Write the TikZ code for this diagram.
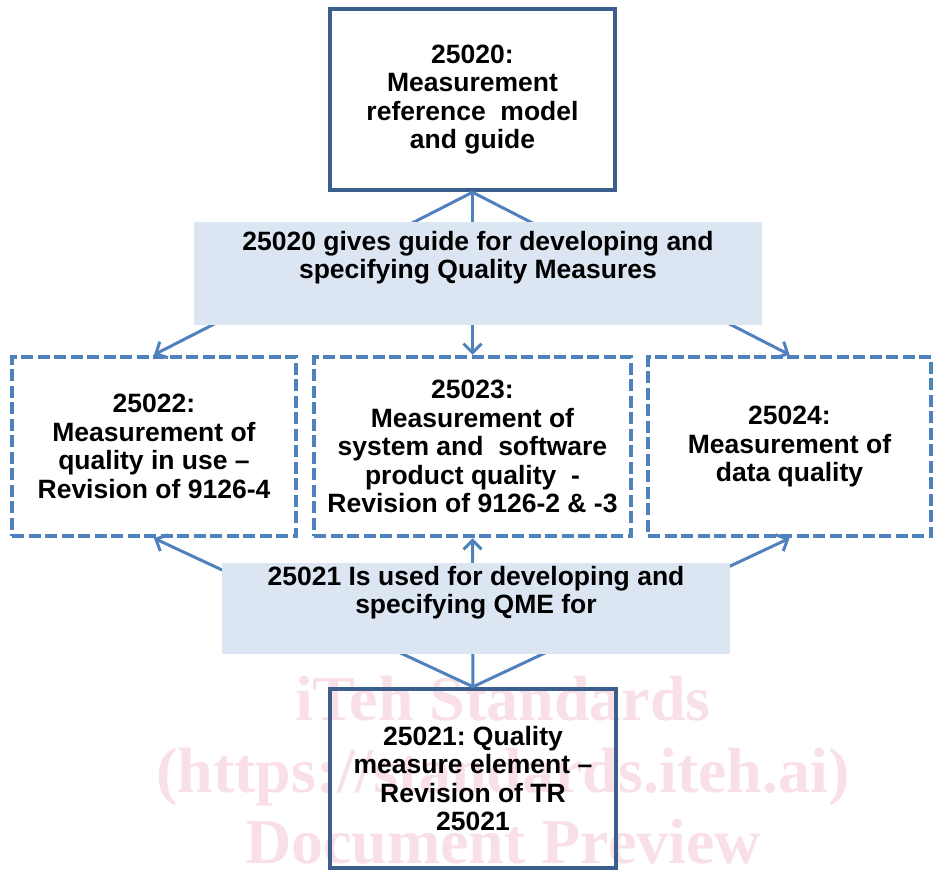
\documentclass[tikz,border=0pt]{standalone}
\usepackage{fontspec}
\setmainfont{Liberation Sans}
\newfontfamily\wmfont{Liberation Serif}
\usetikzlibrary{arrows.meta}
\definecolor{solidblue}{HTML}{3B5E8C}
\definecolor{dashblue}{HTML}{4F81BD}
\definecolor{bandfill}{HTML}{DCE6F2}
\definecolor{wmpink}{RGB}{249,224,231}
\frenchspacing
\begin{document}
\begin{tikzpicture}[x=1pt,y=-1pt,
  txt/.style={font=\fontsize{26.5}{28.5}\selectfont\bfseries, align=center, text=black, inner sep=0pt},
  solidbox/.style={txt, draw=solidblue, line width=4.5pt, rectangle},
  dashbox/.style={txt, draw=dashblue, line width=4.5pt, dash pattern=on 12pt off 4.5pt},
  band/.style={txt, fill=bandfill},
  conn/.style={draw=dashblue, line width=3pt, -{Straight Barb[length=9pt,width=18pt]}},
  wm/.style={font=\wmfont\bfseries\fontsize{64}{64}\selectfont, text=wmpink, inner sep=0pt, anchor=base},
]
\useasboundingbox (0,0) rectangle (940,875);

% watermark
\node[wm] (wm1) at (503,720) {iTeh Standards};
\node[wm] (wm2) at (503,792) {(https://standards.iteh.ai)};
\node[wm] (wm3) at (503,863) {Document Preview};

% boxes
\node[solidbox, minimum width=285pt, minimum height=181pt] (top) at (472.5,99.5)
  {25020:\\Measurement\\reference~ model\\and guide};
\node[dashbox, minimum width=284pt, minimum height=179pt] (left) at (154,446.5)
  {25022:\\Measurement of\\quality in use --\\Revision of 9126-4};
\node[dashbox, minimum width=317pt, minimum height=179pt] (mid) at (472.5,446.5)
  {25023:\\Measurement of\\system and~ software\\product quality~ -\\Revision of 9126-2 \& -3};
\node[dashbox, minimum width=283pt, minimum height=179pt] (right) at (789.5,446.5)
  {25024:\\Measurement of\\data quality};
\node[solidbox, minimum width=286pt, minimum height=179pt] (bot) at (473,778.5)
  {25021: Quality\\measure element --\\Revision of TR\\25021};

% connectors
\draw[conn] (top.south) -- (left.north);
\draw[conn] (top.south) -- (mid.north);
\draw[conn] (top.south) -- (right.north);
\draw[conn] (bot.north) -- (left.south);
\draw[conn] (bot.north) -- (mid.south);
\draw[conn] (bot.north) -- (right.south);

% bands
\node[band, minimum width=568pt, minimum height=103pt] (b1) at (478,273.5)
  {25020 gives guide for developing and\\specifying Quality Measures\\\strut};
\node[band, minimum width=508pt, minimum height=91pt] (b2) at (476,608.5)
  {25021 Is used for developing and\\specifying QME for\\\strut};
\end{tikzpicture}
\end{document}
